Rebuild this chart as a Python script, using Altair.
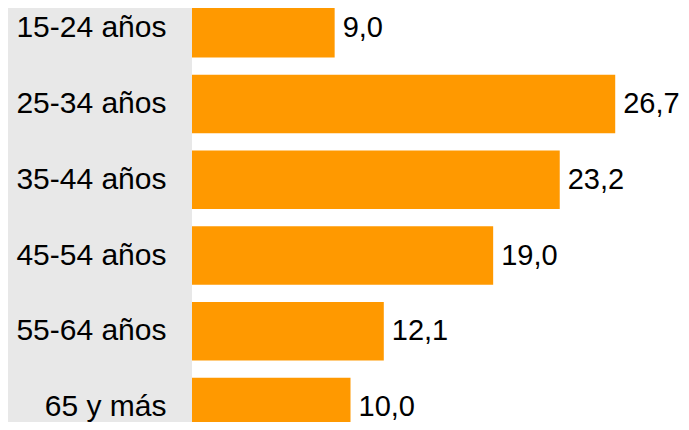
import altair as alt
import pandas as pd

categories = ["15-24 años", "25-34 años", "35-44 años", "45-54 años", "55-64 años", "65 y más"]
values = [9.0, 26.7, 23.2, 19.0, 12.1, 10.0]
labels = [f"{v:.1f}".replace(".", ",") for v in values]

df = pd.DataFrame({"cat": categories, "val": values, "lab": labels})

FONT = "Liberation Sans"
XMAX = 30.85

x_scale = alt.Scale(domain=[0, XMAX], nice=False, zero=True)

y_enc = alt.Y(
    "cat:N",
    sort=categories,
    title=None,
    scale=alt.Scale(range=[-17.6, 436.9], paddingInner=0.228, paddingOuter=0.114),
    axis=alt.Axis(
        ticks=False,
        domain=False,
        labelFont=FONT,
        labelFontSize=30,
        labelColor="#000000",
        labelPadding=26,
        labelAlign="right",
        labelBaseline="middle",
        grid=False,
    ),
)

bars = alt.Chart(df).mark_bar(color="#FF9900", clip=True).encode(
    x=alt.X("val:Q", title=None, scale=x_scale, axis=None),
    y=y_enc,
)
text = alt.Chart(df).mark_text(
    align="left", baseline="middle", dx=8, font=FONT, fontSize=29, color="#000000"
).encode(
    x=alt.X("val:Q", scale=x_scale, axis=None),
    y=alt.Y("cat:N", sort=categories),
    text="lab:N",
)

chart = (
    alt.layer(bars, text)
    .properties(
        width=489,
        height=414,
        autosize="none",
        padding={"left": 184, "top": 0, "right": 0, "bottom": 0},
        background="#E8E8E8",
    )
    .configure_view(stroke=None, fill="white")
)

chart.save("out.html", embed_options={"renderer": "svg", "actions": False})
